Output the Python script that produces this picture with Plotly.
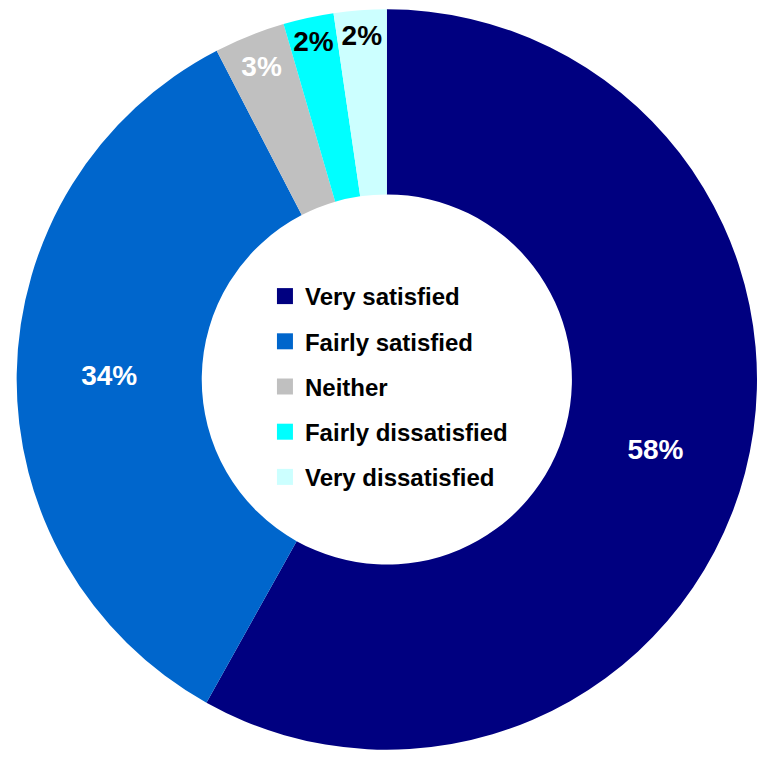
import plotly.graph_objects as go

labels = ["Very satisfied", "Fairly satisfied", "Neither", "Fairly dissatisfied", "Very dissatisfied"]
values = [58.1, 34.3, 3.1, 2.2, 2.3]
colors = ["#000080", "#0066CC", "#C0C0C0", "#00FFFF", "#CCFFFF"]
text_colors = ["white", "white", "white", "black", "black"]

FONT = "Liberation Sans, Arial"

fig = go.Figure()
fig.add_trace(go.Pie(
    labels=labels,
    values=values,
    hole=0.5,
    sort=False,
    direction="clockwise",
    rotation=0,
    marker=dict(colors=colors, line=dict(width=0)),
    texttemplate="%{value:.0f}%",
    textposition="inside",
    insidetextorientation="horizontal",
    textfont=dict(family=FONT, size=28, color=text_colors, weight="bold"),
    domain=dict(x=[0.022, 1], y=[0, 1]),
    showlegend=False,
))

# legend entries (one group each so the gap between rows can be set)
for lab, col in zip(labels, colors):
    fig.add_trace(go.Scatter(
        x=[None], y=[None], mode="markers", name=lab,
        marker=dict(symbol="square", size=16, color=col),
        legendgroup=lab, showlegend=True, hoverinfo="skip",
    ))

fig.update_layout(
    width=757, height=759,
    margin=dict(l=0, r=0, t=0, b=0),
    paper_bgcolor="white", plot_bgcolor="rgba(0,0,0,0)",
    uniformtext=dict(minsize=28, mode="show"),
    xaxis=dict(visible=False), yaxis=dict(visible=False),
    showlegend=True,
    legend=dict(
        x=0.350, y=0.639, xanchor="left", yanchor="top",
        font=dict(family=FONT, size=24, color="black", weight="bold"),
        bgcolor="rgba(0,0,0,0)", itemclick=False, itemdoubleclick=False,
        tracegroupgap=11,
    ),
)
fig.write_html("out.html")
